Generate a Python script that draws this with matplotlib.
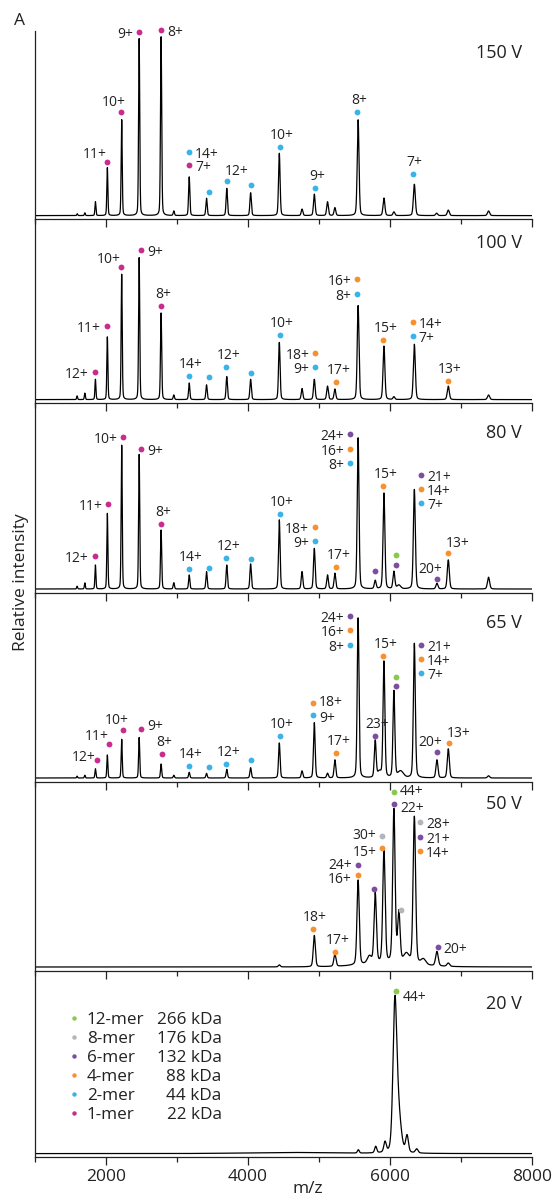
import numpy as np
import matplotlib.pyplot as plt
from matplotlib.ticker import MultipleLocator

plt.rcParams['font.family'] = ['Open Sans', 'DejaVu Sans']

# ---- data ----
voltages = ['150 V', '100 V', '80 V', '65 V', '50 V', '20 V']

species_keys = ['12', '8', '6', '4', '2', '1']
species_names = ['12-mer', '8-mer', '6-mer', '4-mer', '2-mer', '1-mer']
species_mass = ['266 kDa', '176 kDa', '132 kDa', '88 kDa', '44 kDa', '22 kDa']
species_colors = ['#8cc850', '#b4b4bc', '#7d4ea0', '#f7902f', '#3ab4e8', '#c62d8c']

# peaks: (m/z, relative height[, fwhm])
peaks_150 = [(1595, 1.0), (1702, 1.5), (1851, 7.5), (2019, 26), (2221, 52), (2467, 96),
             (2776, 97), (2955, 2.5), (3172, 21), (3416, 9.4), (3701, 14.8), (4037, 12.4),
             (4441, 33.8), (4761, 3.5), (4934, 11.6), (5120, 7.5), (5224, 4.3), (5551, 52),
             (5915, 9.5), (6055, 2), (6343, 17), (6657, 1.3), (6821, 3), (7388, 2.5)]
peaks_100 = [(1593, 2), (1702, 3.5), (1851, 11), (2019, 34), (2221, 68), (2467, 77),
             (2776, 47), (2955, 2.5), (3172, 9), (3416, 8), (3701, 12.5), (4037, 11),
             (4441, 31), (4761, 6), (4934, 11), (5120, 7.3), (5224, 5.7), (5551, 51),
             (5915, 29), (6055, 1.5), (6343, 30), (6821, 7.3), (7388, 2.5)]
peaks_80 = [(1593, 1.5), (1702, 3.3), (1851, 13), (2019, 41), (2221, 78), (2467, 73),
            (2776, 32), (2955, 3.4), (3172, 7.6), (3416, 9.4), (3701, 13), (4037, 13.6),
            (4441, 37.5), (4761, 9.4), (4934, 22), (5120, 7.6), (5224, 8.5), (5551, 82),
            (5792, 4.5), (5915, 52), (6055, 9.4), (6125, 2, 60), (6343, 54), (6661, 3),
            (6821, 15.8), (7388, 6.4)]
peaks_65 = [(1593, 1.0), (1702, 1.5), (1851, 5), (2019, 12.5), (2221, 21), (2467, 22),
            (2776, 7.6), (2955, 1.5), (3172, 3.1), (3416, 2.5), (3701, 4.7), (4037, 5.6),
            (4441, 19), (4761, 3.8), (4934, 30), (5120, 2.5), (5224, 9.8), (5551, 86.8),
            (5792, 20), (5850, 3, 60), (5915, 63), (6055, 47), (6150, 3.5, 90), (6343, 73),
            (6661, 9.8), (6821, 15.8), (7388, 1.2)]
peaks_50 = [(4441, 1.1), (4934, 17), (5224, 6.5), (5551, 46), (5710, 4, 70), (5792, 38),
            (5915, 61), (6055, 83), (6125, 27), (6230, 5, 90), (6343, 80), (6470, 3, 80),
            (6661, 7.8), (6821, 1.8), (6000, 2.0, 900)]
peaks_20 = [(4600, 0.6, 1500), (5554, 1.8, 30), (5799, 3.5, 35), (5930, 5.5, 40),
            (6068, 75, 62), (6115, 22, 90), (6240, 9, 45), (6376, 2.2, 45)]

# charge labels: (m/z of dot, height of dot, species, label, placement)
ann_150 = [(2010, 29.1, '1', '11+', 'al'), (2209, 56.0, '1', '10+', 'a-'),
           (2467, 99.6, '1', '9+', 'l'), (2780, 100.7, '1', '8+', 'r'),
           (3168, 34.5, '2', '14+', 'r'), (3168, 27.3, '1', '7+', 'r'),
           (3446, 13.0, '2', '', ''), (3699, 18.6, '2', '12+', 'ar'),
           (4047, 16.4, '2', '', ''), (4449, 37.2, '2', '10+', 'a'),
           (4941, 15.1, '2', '9+', 'a'), (5537, 56.2, '2', '8+', 'a'),
           (6317, 22.4, '2', '7+', 'a')]
ann_100 = [(1841, 15.1, '1', '12+', 'l'), (2010, 40.1, '1', '11+', 'l'),
           (2209, 72.0, '1', '10+', 'al'), (2497, 81.2, '1', '9+', 'r'),
           (2780, 50.6, '1', '8+', 'a'), (3168, 12.8, '2', '14+', 'a'),
           (3446, 12.1, '2', '', ''), (3694, 17.5, '2', '12+', 'a'),
           (4047, 14.6, '2', '', ''), (4449, 35.0, '2', '10+', 'a'),
           (4946, 25.1, '4', '18+', 'l'), (4946, 17.9, '2', '9+', 'l'),
           (5244, 9.4, '4', '17+', 'a'), (5542, 65.3, '4', '16+', 'l'),
           (5542, 57.5, '2', '8+', 'l'), (5905, 32.3, '4', '15+', 'a'),
           (6322, 41.9, '4', '14+', 'r'), (6322, 34.3, '2', '7+', 'r'),
           (6819, 10.1, '4', '13+', 'a')]
ann_80 = [(1841, 17.7, '1', '12+', 'l'), (2035, 46.1, '1', '11+', 'l'),
          (2244, 82.5, '1', '10+', 'l'), (2497, 75.8, '1', '9+', 'r'),
          (2780, 35.4, '1', '8+', 'a'), (3168, 10.9, '2', '14+', 'a'),
          (3446, 11.6, '2', '', ''), (3694, 17.0, '2', '12+', 'a'),
          (4047, 16.4, '2', '', ''), (4449, 40.7, '2', '10+', 'a'),
          (4941, 33.8, '4', '18+', 'l'), (4941, 26.0, '2', '9+', 'l'),
          (5244, 11.9, '4', '17+', 'a'), (5443, 83.9, '6', '24+', 'l'),
          (5443, 76.1, '4', '16+', 'l'), (5443, 68.4, '2', '8+', 'l'),
          (5791, 9.6, '6', '', ''), (5905, 55.9, '4', '15+', 'a'),
          (6079, 18.6, '12', '', ''), (6079, 13.2, '6', '', ''),
          (6436, 61.9, '6', '21+', 'r'), (6436, 54.1, '4', '14+', 'r'),
          (6436, 46.5, '2', '7+', 'r'), (6660, 5.3, '6', '20+', 'a-'),
          (6819, 19.5, '4', '13+', 'ar')]
ann_65 = [(1876, 9.6, '1', '12+', 'ul'), (2040, 18.3, '1', '11+', 'al'),
          (2244, 25.9, '1', '10+', 'a-'), (2497, 26.8, '1', '9+', 'ur'),
          (2790, 13.0, '1', '8+', 'a'), (3168, 6.7, '2', '14+', 'a'),
          (3446, 6.0, '2', '', ''), (3694, 7.8, '2', '12+', 'a'),
          (4047, 9.6, '2', '', ''), (4449, 22.8, '2', '10+', 'a'),
          (4916, 40.7, '4', '18+', 'ru'), (4916, 34.3, '2', '9+', 'rd'),
          (5244, 13.4, '4', '17+', 'a'), (5443, 87.7, '6', '24+', 'l'),
          (5443, 80.1, '4', '16+', 'l'), (5443, 72.3, '2', '8+', 'l'),
          (5791, 23.0, '6', '23+', 'a'), (5905, 66.0, '4', '15+', 'a'),
          (6079, 55.0, '12', '', ''), (6079, 49.8, '6', '', ''),
          (6436, 72.3, '6', '21+', 'r'), (6436, 64.6, '4', '14+', 'r'),
          (6436, 57.0, '2', '7+', 'r'), (6660, 13.9, '6', '20+', 'a-'),
          (6829, 19.0, '4', '13+', 'ar')]
ann_50 = [(4915, 20.6, '4', '18+', 'a'), (5230, 8.3, '4', '17+', 'a'),
          (5545, 55.3, '6', '24+', 'lu'), (5545, 49.8, '4', '16+', 'ld'),
          (5779, 42.5, '6', '', ''), (5892, 71.2, '8', '30+', 'lu'),
          (5892, 64.7, '4', '15+', 'ld'), (6056, 95.0, '12', '44+', 'ru'),
          (6056, 88.4, '6', '22+', 'rd'), (6155, 30.9, '8', '', ''),
          (6423, 78.5, '8', '28+', 'r'), (6423, 70.7, '6', '21+', 'r'),
          (6423, 63.1, '4', '14+', 'r'), (6672, 10.7, '6', '20+', 'r')]
ann_20 = [(6080, 88.0, '12', '44+', 'dr')]

all_peaks = [peaks_150, peaks_100, peaks_80, peaks_65, peaks_50, peaks_20]
all_ann = [ann_150, ann_100, ann_80, ann_65, ann_50, ann_20]
rel_width = [0.0035, 0.0035, 0.0035, 0.0035, 0.005, 0.0035]

# ---- layout (pixels) ----
W, H = 552, 1198
edges = [30.7, 219.3, 403.3, 592.7, 781.7, 970.7, 1157.3]
x_left, x_right = 35, 532
px_per_unit = 1.843
base_off = 3.7
volt_y = [58, 248, 438, 628, 809, 1009]  # baselines of the voltage labels
ink = '#222222'

# label placement: ha, dx px, dy px (baseline, + is down)
place = {'a': ('center', 2, -8), 'a-': ('center', -7, -6), 'al': ('right', 0, -4),
         'ar': ('left', -2, -6), 'l': ('right', -6, 6), 'r': ('left', 6, 6),
         'lu': ('right', -6, 3.5), 'ld': ('right', -6, 8), 'ru': ('left', 6, 3.5),
         'rd': ('left', 6, 7.5), 'ul': ('right', -2, 1), 'ur': ('left', 6, 1),
         'dr': ('left', 7, 10)}

color_of = dict(zip(species_keys, species_colors))
mz = np.linspace(1000, 8000, 14001)


def spectrum(peaks, rel):
    y = np.zeros_like(mz)
    for p in peaks:
        c, h = p[0], p[1]
        w = p[2] if len(p) > 2 else 10 + rel * c
        g = np.exp(-4 * np.log(2) * ((mz - c) / w) ** 2)
        lor = 1 / (1 + (2 * (mz - c) / w) ** 2)
        y += h * (0.75 * g + 0.25 * lor)
    return y


fig = plt.figure(figsize=(W / 100, H / 100), dpi=100)

for i, volt in enumerate(voltages):
    top, bot = edges[i], edges[i + 1]
    ax = fig.add_axes([x_left / W, 1 - bot / H, (x_right - x_left) / W, (bot - top) / H])
    ax.set_facecolor('none')
    ax.plot(mz, spectrum(all_peaks[i], rel_width[i]), color='black', lw=0.9)
    ax.set_xlim(1000, 8000)
    ax.set_ylim(-base_off / px_per_unit, (bot - top - base_off) / px_per_unit)
    ax.set_yticks([])
    ax.xaxis.set_major_locator(MultipleLocator(2000))
    ax.xaxis.set_minor_locator(MultipleLocator(1000))
    ax.tick_params(axis='x', which='major', direction='out', length=5.5, width=0.9,
                   color=ink, labelsize=12.5, labelcolor=ink, pad=3,
                   labelbottom=(i == len(voltages) - 1))
    ax.tick_params(axis='x', which='minor', direction='out', length=3.5, width=0.9, color=ink)
    for s in ['top', 'right']:
        ax.spines[s].set_visible(False)
    for s in ['left', 'bottom']:
        ax.spines[s].set_linewidth(0.9)
        ax.spines[s].set_color(ink)

    for m, yv, sp, lab, pos in all_ann[i]:
        ax.plot(m, yv, 'o', ms=4.2, mfc=color_of[sp], mec='none', clip_on=False, zorder=5)
        if lab:
            ha, dx, dy = place[pos]
            ax.annotate(lab, (m, yv), xytext=(dx * 0.72, -dy * 0.72), textcoords='offset points',
                        ha=ha, va='baseline', fontsize=10, color=ink, annotation_clip=False)

# overlay for free text in pixel coordinates
ov = fig.add_axes([0, 0, 1, 1], facecolor='none')
ov.set_xlim(0, W)
ov.set_ylim(H, 0)
ov.axis('off')

for volt, yb in zip(voltages, volt_y):
    ov.text(522, yb, volt, ha='right', va='baseline', fontsize=13, color=ink)

ov.text(19.5, 25, 'A', ha='center', va='baseline', fontsize=12.5, color=ink)
ov.text(21, 581.7, 'Relative intensity', rotation=90, ha='center', va='center',
        fontsize=12.5, color=ink)
ov.text(307.5, 1193, 'm/z', ha='center', va='baseline', fontsize=12.5, color=ink)

# legend
for k, (name, mass, col) in enumerate(zip(species_names, species_mass, species_colors)):
    yc = 1018 + 19 * k
    ov.plot(74, yc, 'o', ms=3.2, mfc=col, mec='none')
    ov.text(86.7, yc + 6, name, ha='left', va='baseline', fontsize=12.3, color=ink)
    ov.text(221.7, yc + 6, mass, ha='right', va='baseline', fontsize=12.3, color=ink)

fig.savefig('out.png', dpi=100)
